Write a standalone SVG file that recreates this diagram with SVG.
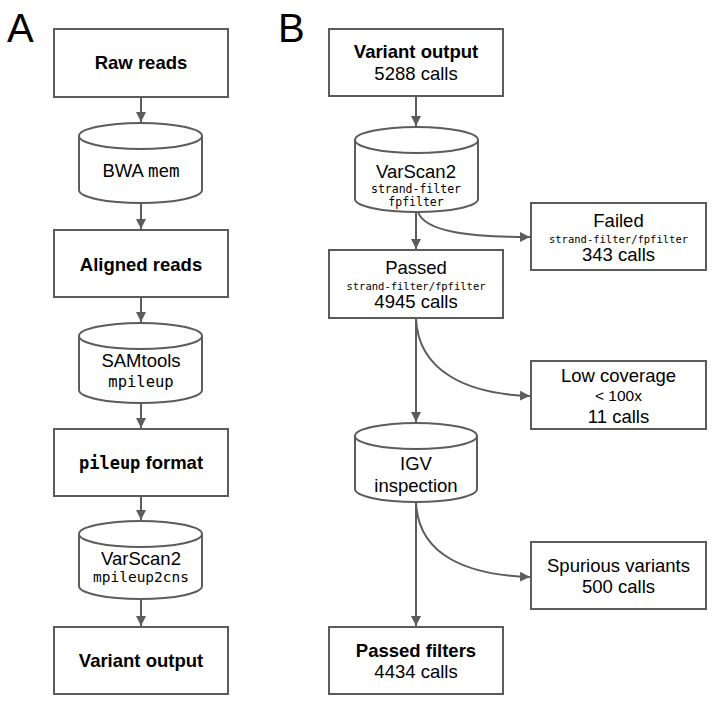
<svg xmlns="http://www.w3.org/2000/svg" width="719" height="712" viewBox="0 0 719 712">
<style>
.box{fill:#fff;stroke:#5c5c5c;stroke-width:2}
.cyl{fill:#fff;stroke:#5c5c5c;stroke-width:2}
.edge{fill:none;stroke:#5c5c5c;stroke-width:2}
text{font-family:"Liberation Sans",Arial,sans-serif;font-size:18.5px;fill:#000;text-anchor:middle}
.b{font-weight:bold}
.m{font-family:"DejaVu Sans Mono","Liberation Mono",monospace}
.s105{font-size:10.5px}
.s115{font-size:11.5px}
.s145{font-size:14.5px}
.s155{font-size:15.5px}
.panel{font-size:40px;text-anchor:start}
</style>
<defs>
<marker id="ah" viewBox="0 0 10 10" refX="10" refY="5" markerWidth="10" markerHeight="10" markerUnits="userSpaceOnUse" orient="auto">
<path d="M0,0 L10,5 L0,10 z" fill="#5c5c5c"/>
</marker>
</defs>
<rect width="719" height="712" fill="#fff"/>
<text class="panel" x="7" y="42">A</text>
<text class="panel" x="278" y="42">B</text>
<g id="connectors">
<path class="edge" marker-end="url(#ah)" d="M141,97 L141,122"/>
<path class="edge" marker-end="url(#ah)" d="M141,203 L141,229"/>
<path class="edge" marker-end="url(#ah)" d="M141,297 L141,322"/>
<path class="edge" marker-end="url(#ah)" d="M141,403 L141,428"/>
<path class="edge" marker-end="url(#ah)" d="M141,496 L141,520"/>
<path class="edge" marker-end="url(#ah)" d="M141,599 L141,626"/>
<path class="edge" marker-end="url(#ah)" d="M416,96 L416,126"/>
<path class="edge" marker-end="url(#ah)" d="M416,212 L416,249"/>
<path class="edge" marker-end="url(#ah)" d="M416,318 L416,422"/>
<path class="edge" marker-end="url(#ah)" d="M416,502 L416,626"/>
<path class="edge" marker-end="url(#ah)" d="M418,212 C425,232 470,237 530,237"/>
<path class="edge" marker-end="url(#ah)" d="M416,318 C418,372 468,394 530,396"/>
<path class="edge" marker-end="url(#ah)" d="M416,502 C418,556 468,575 530,577"/>
</g>
<g id="raw-reads">
<rect class="box" x="54" y="29" width="174" height="68"/>
<text class="b" x="141" y="69">Raw reads</text>
</g>
<g id="bwa-mem">
<path class="cyl" d="M79,136 A61.5,13 0 1 1 202,136 A61.5,13 0 1 1 79,136 Z M79,136 L79,190 A61.5,13 0 0 0 202,190 L202,136"/>
<text x="141" y="177">BWA <tspan class="m" style="font-size:17.5px">mem</tspan></text>
</g>
<g id="aligned-reads">
<rect class="box" x="54" y="230" width="174" height="67"/>
<text class="b" x="141" y="271">Aligned reads</text>
</g>
<g id="samtools">
<path class="cyl" d="M79,336 A61.5,13 0 1 1 202,336 A61.5,13 0 1 1 79,336 Z M79,336 L79,390 A61.5,13 0 0 0 202,390 L202,336"/>
<text x="141" y="367">SAMtools</text>
<text class="m s155" x="141" y="387">mpileup</text>
</g>
<g id="pileup-format">
<rect class="box" x="54" y="429" width="174" height="67"/>
<text class="b" x="141" y="469"><tspan class="m" style="font-size:17px">pileup</tspan> format</text>
</g>
<g id="varscan2-a">
<path class="cyl" d="M79,534 A61.5,13 0 1 1 202,534 A61.5,13 0 1 1 79,534 Z M79,534 L79,586 A61.5,13 0 0 0 202,586 L202,534"/>
<text x="141" y="565">VarScan2</text>
<text class="m s145" x="141" y="582">mpileup2cns</text>
</g>
<g id="variant-output-a">
<rect class="box" x="54" y="627" width="174" height="67"/>
<text class="b" x="141" y="667">Variant output</text>
</g>
<g id="variant-output-b">
<rect class="box" x="329" y="29" width="174" height="67"/>
<text class="b" x="416" y="58">Variant output</text>
<text x="416" y="80">5288 calls</text>
</g>
<g id="varscan2-b">
<path class="cyl" d="M355,140 A61.5,13 0 1 1 478,140 A61.5,13 0 1 1 355,140 Z M355,140 L355,199 A61.5,13 0 0 0 478,199 L478,140"/>
<text x="416" y="178">VarScan2</text>
<text class="m s115" x="416" y="193">strand-filter</text>
<text class="m s115" x="416" y="206">fpfilter</text>
</g>
<g id="failed">
<rect class="box" x="531" y="203" width="175" height="67"/>
<text x="618.5" y="227">Failed</text>
<text class="m s105" x="618.5" y="243">strand-filter/fpfilter</text>
<text x="618.5" y="261">343 calls</text>
</g>
<g id="passed">
<rect class="box" x="329" y="250" width="174" height="68"/>
<text x="416" y="274">Passed</text>
<text class="m s105" x="416" y="290">strand-filter/fpfilter</text>
<text x="416" y="308">4945 calls</text>
</g>
<g id="low-coverage">
<rect class="box" x="531" y="361" width="175" height="68"/>
<text x="618.5" y="382">Low coverage</text>
<text class="s155" x="618.5" y="401">&lt; 100x</text>
<text x="618.5" y="423">11 calls</text>
</g>
<g id="igv">
<path class="cyl" d="M355,436 A61,13 0 1 1 477,436 A61,13 0 1 1 355,436 Z M355,436 L355,489 A61,13 0 0 0 477,489 L477,436"/>
<text x="416" y="470">IGV</text>
<text x="416" y="492">inspection</text>
</g>
<g id="spurious">
<rect class="box" x="531" y="542" width="175" height="67"/>
<text x="618.5" y="572">Spurious variants</text>
<text x="618.5" y="593">500 calls</text>
</g>
<g id="passed-filters">
<rect class="box" x="329" y="627" width="174" height="67"/>
<text class="b" x="416" y="657">Passed filters</text>
<text x="416" y="678">4434 calls</text>
</g>
</svg>
